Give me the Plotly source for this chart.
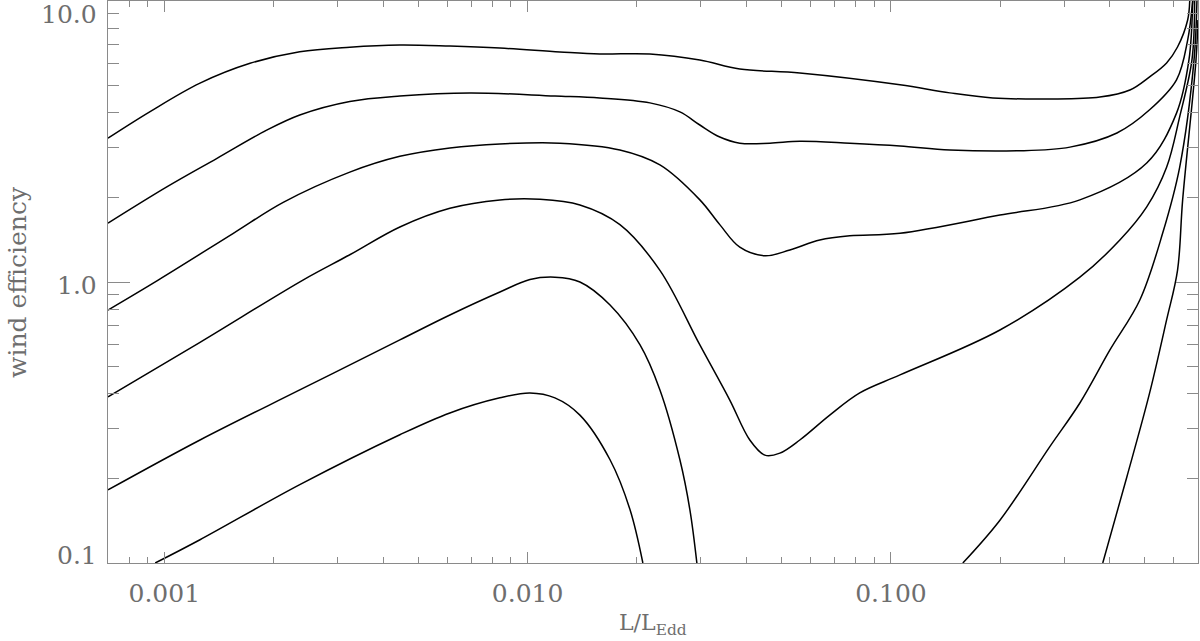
import math
import plotly.graph_objects as go

# ---- data ----
L_1 = [0.0007, 0.000914, 0.001254, 0.001722, 0.00236, 0.00324, 0.00445, 0.00611, 0.00839, 0.01227,
       0.0158, 0.02171, 0.02979, 0.03837, 0.05613, 0.1059, 0.1453, 0.1908, 0.274, 0.3757,
       0.4546, 0.5152, 0.5737, 0.6148, 0.6556, 0.6642]
E_1 = [3.25, 4.04, 5.10, 6.00, 6.60, 6.85, 6.97, 6.91, 6.80, 6.59,
       6.48, 6.48, 6.17, 5.73, 5.54, 5.03, 4.71, 4.52, 4.48, 4.55,
       4.82, 5.37, 6.02, 6.86, 8.56, 10.0]

L_2 = [0.0007, 0.001016, 0.001393, 0.001913, 0.00236, 0.00324, 0.00445, 0.00694, 0.01189, 0.0158,
       0.02171, 0.02625, 0.02979, 0.0338, 0.03837, 0.04643, 0.05613, 0.07703, 0.1059, 0.1453,
       0.2222, 0.3109, 0.4188, 0.5152, 0.6109, 0.6556, 0.6768]
E_2 = [1.62, 2.18, 2.75, 3.47, 3.93, 4.39, 4.59, 4.71, 4.59, 4.52,
       4.34, 4.03, 3.62, 3.28, 3.12, 3.12, 3.17, 3.12, 3.05, 2.95,
       2.93, 3.02, 3.39, 4.10, 5.24, 7.26, 10.0]

L_3 = [0.0007, 0.000962, 0.001549, 0.002125, 0.00324, 0.00445, 0.00611, 0.00839, 0.01227, 0.01795,
       0.02313, 0.02979, 0.0338, 0.03837, 0.04498, 0.05269, 0.0637, 0.07703, 0.1059, 0.1995,
       0.3311, 0.5058, 0.6109, 0.6610, 0.6768]
E_3 = [0.795, 1.016, 1.49, 1.92, 2.46, 2.80, 3.00, 3.10, 3.12, 2.95,
       2.61, 1.96, 1.60, 1.33, 1.24, 1.30, 1.41, 1.46, 1.49, 1.73,
       1.96, 2.65, 3.99, 6.17, 10.0]

L_4 = [0.0007, 0.001254, 0.002408, 0.00324, 0.00445, 0.00611, 0.00839, 0.0108, 0.01393, 0.01795,
       0.02313, 0.02979, 0.03601, 0.04088, 0.04498, 0.04946, 0.05613, 0.06786, 0.08206, 0.1059,
       0.1995, 0.3311, 0.4266, 0.5058, 0.5737, 0.6232, 0.6737, 0.6853]
E_4 = [0.390, 0.61, 1.016, 1.25, 1.57, 1.83, 1.96, 1.97, 1.88, 1.60,
       1.10, 0.597, 0.380, 0.274, 0.242, 0.246, 0.274, 0.336, 0.403, 0.467,
       0.675, 1.04, 1.41, 1.85, 2.56, 3.87, 6.17, 10.0]

L_5 = [0.0007, 0.001254, 0.00236, 0.00445, 0.00611, 0.00839, 0.01015, 0.01189, 0.01393, 0.01686,
       0.02039, 0.02313, 0.02625, 0.02796, 0.02923]
E_5 = [0.182, 0.274, 0.413, 0.622, 0.763, 0.921, 1.02, 1.04, 1.0, 0.828,
       0.597, 0.413, 0.233, 0.155, 0.1]
L_5b = [0.1577, 0.1995, 0.274, 0.3311, 0.4006, 0.4842, 0.5594, 0.6232, 0.6826, 0.6953]
E_5b = [0.1, 0.142, 0.26, 0.371, 0.573, 0.863, 1.49, 2.56, 6.17, 10.0]

L_6 = [0.000944, 0.001254, 0.00236, 0.00445, 0.00611, 0.00839, 0.01015, 0.01189, 0.01393, 0.01686,
       0.01913, 0.02076]
E_6 = [0.1, 0.121, 0.190, 0.286, 0.342, 0.387, 0.403, 0.387, 0.336, 0.233,
       0.155, 0.1]
L_6b = [0.3828, 0.4457, 0.5152, 0.5737, 0.6148, 0.6351, 0.6912, 0.6996]
E_6b = [0.1, 0.202, 0.403, 0.733, 1.10, 1.96, 6.17, 8.56]

x_tick_vals = [0.001, 0.01, 0.1]
x_tick_text = ["0.001", "0.010", "0.100"]
x_minor_vals = [0.0008, 0.0009, 0.002, 0.003, 0.004, 0.005, 0.006, 0.007, 0.008, 0.009,
                0.02, 0.03, 0.04, 0.05, 0.06, 0.07, 0.08, 0.09,
                0.2, 0.3, 0.4, 0.5, 0.6]
y_tick_vals = [0.1, 1.0, 10.0]
y_tick_text = ["0.1", "1.0", "10.0"]
y_label_shift = [8, -3, -13]
y_minor_vals = [0.2, 0.3, 0.4, 0.5, 0.6, 0.7, 0.8, 0.9, 2, 3, 4, 5, 6, 7, 8, 9]
x_range = [0.0007, 0.7]
y_range = [0.1, 10.0]

AXIS = "#8a8a8a"
TEXT = "#6e6e6e"
FONT = "DejaVu Serif"

fig = go.Figure()
for xs, ys in [(L_1, E_1), (L_2, E_2), (L_3, E_3), (L_4, E_4), (L_5, E_5), (L_5b, E_5b),
               (L_6, E_6), (L_6b, E_6b)]:
    fig.add_trace(go.Scatter(x=xs, y=ys, mode="lines",
                             line=dict(color="black", width=1.5, shape="spline", smoothing=1.0),
                             showlegend=False, hoverinfo="skip"))

fig.update_layout(
    width=1200, height=641,
    margin=dict(l=108, r=2, t=1, b=78),
    paper_bgcolor="white", plot_bgcolor="white",
    font=dict(family=FONT, color=TEXT),
    showlegend=False,
)
fig.update_xaxes(
    type="log", range=[math.log10(x_range[0]), math.log10(x_range[1])],
    showgrid=False, zeroline=False, automargin=False,
    showline=True, linecolor=AXIS, linewidth=1, mirror="allticks",
    ticks="inside", ticklen=11, tickcolor=AXIS, tickwidth=1,
    tickvals=x_tick_vals, ticktext=x_tick_text,
    tickfont=dict(family=FONT, size=25, color=TEXT), ticklabelstandoff=8,
    minor=dict(tickvals=x_minor_vals, ticks="inside", ticklen=6, tickcolor=AXIS, tickwidth=1,
               showgrid=False),
)
fig.update_yaxes(
    type="log", range=[math.log10(y_range[0]), math.log10(y_range[1])],
    showgrid=False, zeroline=False, automargin=False,
    showline=True, linecolor=AXIS, linewidth=1, mirror="allticks",
    ticks="inside", ticklen=22, tickcolor=AXIS, tickwidth=1,
    tickvals=y_tick_vals, showticklabels=False,
    minor=dict(tickvals=y_minor_vals, ticks="inside", ticklen=11, tickcolor=AXIS, tickwidth=1,
               showgrid=False),
)

for v, t, s in zip(y_tick_vals, y_tick_text, y_label_shift):
    fig.add_annotation(x=0, xref="paper", xanchor="right", xshift=-9,
                       y=math.log10(v), yref="y", yanchor="middle", yshift=s,
                       text=t, showarrow=False,
                       font=dict(family=FONT, size=25, color=TEXT))

fig.add_annotation(x=0.5, xref="paper", y=-0.110, yref="paper", yanchor="middle",
                   text="L/L<sub>Edd</sub>", showarrow=False,
                   font=dict(family=FONT, size=22, color=TEXT))
fig.add_annotation(x=-0.0835, xref="paper", y=0.5, yref="paper", xanchor="center",
                   yanchor="middle", textangle=-90,
                   text="wind efficiency", showarrow=False,
                   font=dict(family=FONT, size=25, color=TEXT))

fig.write_html("out.html", config={"displayModeBar": False},
               post_script="document.body.style.margin='0px';")
